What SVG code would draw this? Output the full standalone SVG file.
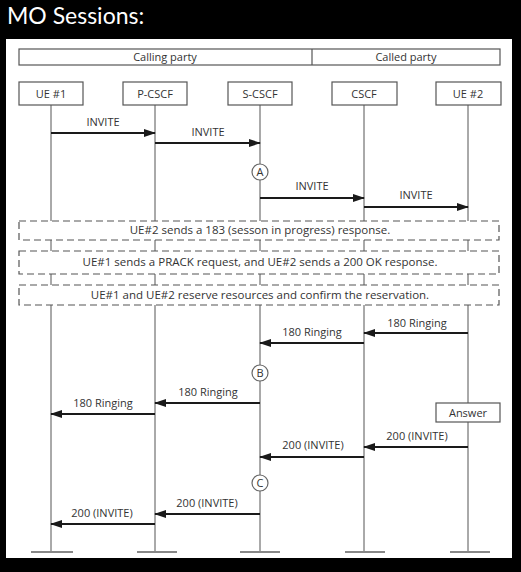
<svg xmlns="http://www.w3.org/2000/svg" width="521" height="572" viewBox="0 0 521 572">
<defs>
<style>
.t{font-family:"Open Sans","Liberation Sans",sans-serif;font-size:11px;fill:#333;text-anchor:middle}
.n{font-family:"Open Sans","Liberation Sans",sans-serif;font-size:11.5px;fill:#333;text-anchor:middle}
.box{fill:#fff;stroke:#555;stroke-width:1.2}
.life{stroke:#555;stroke-width:1;fill:none}
.dash{fill:none;stroke:#555;stroke-width:1.2;stroke-dasharray:7 4}
.msg{stroke:#1a1a1a;stroke-width:2;fill:none;marker-end:url(#ah)}
.end{stroke:#888;stroke-width:2}
.circ{fill:#fff;stroke:#666;stroke-width:1.2}
</style>
<marker id="ah" markerUnits="userSpaceOnUse" markerWidth="12" markerHeight="8" refX="11" refY="4" orient="auto">
<path d="M0,0 L12,4 L0,8 z" fill="#1a1a1a"/>
</marker>
</defs>
<rect x="0" y="0" width="521" height="572" fill="#000"/>
<text x="7" y="24" font-family="Lato,'Liberation Sans',sans-serif" font-size="23" fill="#fff">MO Sessions:</text>
<rect x="6" y="39" width="506" height="519" fill="#fff"/>

<g id="header">
<rect x="19" y="49" width="481" height="16" class="box"/>
<line x1="312" y1="49" x2="312" y2="65" stroke="#555" stroke-width="1.2"/>
<text x="165" y="61" class="t">Calling party</text>
<text x="406" y="61" class="t">Called party</text>
</g>

<g id="lifelines">
<path class="life" d="M51,105V221M51,240V251M51,274V285M51,305V552"/>
<path class="life" d="M155,105V221M155,240V251M155,274V285M155,305V552"/>
<path class="life" d="M260,105V221M260,240V251M260,274V285M260,305V552"/>
<path class="life" d="M364,105V221M364,240V251M364,274V285M364,305V552"/>
<path class="life" d="M468,105V221M468,240V251M468,274V285M468,305V552"/>
<line class="end" x1="31" y1="552" x2="73" y2="552"/>
<line class="end" x1="137" y1="552" x2="177" y2="552"/>
<line class="end" x1="240" y1="552" x2="280" y2="552"/>
<line class="end" x1="345" y1="552" x2="385" y2="552"/>
<line class="end" x1="450" y1="552" x2="490" y2="552"/>
</g>

<g id="ue1"><rect x="19" y="82" width="64" height="23" class="box"/><text x="51" y="98" class="t">UE #1</text></g>
<g id="pcscf"><rect x="123" y="82" width="64" height="23" class="box"/><text x="155" y="98" class="t">P-CSCF</text></g>
<g id="scscf"><rect x="228" y="82" width="64" height="23" class="box"/><text x="260" y="98" class="t">S-CSCF</text></g>
<g id="cscf"><rect x="332" y="82" width="65" height="23" class="box"/><text x="364" y="98" class="t">CSCF</text></g>
<g id="ue2"><rect x="436" y="82" width="65" height="23" class="box"/><text x="468" y="98" class="t">UE #2</text></g>

<g id="notes">
<rect x="19" y="221" width="480" height="19" class="dash"/>
<text x="260" y="234" class="n">UE#2 sends a 183 (sesson in progress) response.</text>
<rect x="19" y="251" width="480" height="23" class="dash"/>
<text x="260" y="266" class="n">UE#1 sends a PRACK request, and UE#2 sends a 200 OK response.</text>
<rect x="19" y="285" width="480" height="20" class="dash"/>
<text x="260" y="299" class="n">UE#1 and UE#2 reserve resources and confirm the reservation.</text>
</g>

<g id="markA"><circle cx="260" cy="172" r="8" class="circ"/><text x="260" y="176" class="t">A</text></g>
<g id="markB"><circle cx="260" cy="373" r="8" class="circ"/><text x="260" y="377" class="t">B</text></g>
<g id="markC"><circle cx="260" cy="483" r="8" class="circ"/><text x="260" y="487" class="t">C</text></g>
<g id="answer"><rect x="436" y="403" width="64" height="19" class="box"/><text x="468" y="417" class="t">Answer</text></g>

<g id="connectors">
<line class="msg" x1="51" y1="133" x2="155" y2="133"/>
<text x="103" y="126" class="t">INVITE</text>
<line class="msg" x1="155" y1="143" x2="260" y2="143"/>
<text x="208" y="136" class="t">INVITE</text>
<line class="msg" x1="260" y1="198" x2="364" y2="198"/>
<text x="312" y="190" class="t">INVITE</text>
<line class="msg" x1="364" y1="207" x2="468" y2="207"/>
<text x="416" y="199" class="t">INVITE</text>

<line class="msg" x1="468" y1="333" x2="364" y2="333"/>
<text x="417" y="327" class="t">180 Ringing</text>
<line class="msg" x1="364" y1="343" x2="260" y2="343"/>
<text x="312" y="336" class="t">180 Ringing</text>
<line class="msg" x1="260" y1="403" x2="155" y2="403"/>
<text x="208" y="396" class="t">180 Ringing</text>
<line class="msg" x1="155" y1="414" x2="51" y2="414"/>
<text x="103" y="407" class="t">180 Ringing</text>

<line class="msg" x1="468" y1="447" x2="364" y2="447"/>
<text x="417" y="440" class="t">200 (INVITE)</text>
<line class="msg" x1="364" y1="457" x2="260" y2="457"/>
<text x="313" y="449" class="t">200 (INVITE)</text>
<line class="msg" x1="260" y1="514" x2="155" y2="514"/>
<text x="207" y="507" class="t">200 (INVITE)</text>
<line class="msg" x1="155" y1="524" x2="51" y2="524"/>
<text x="102" y="517" class="t">200 (INVITE)</text>
</g>
</svg>
